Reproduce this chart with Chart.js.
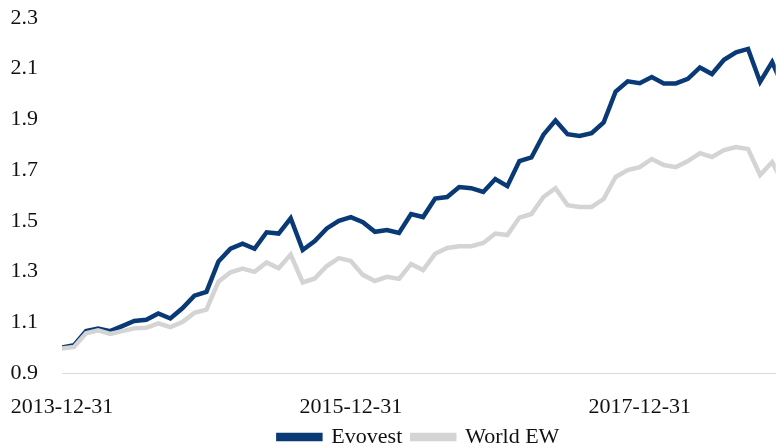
<!DOCTYPE html>
<html>
<head>
<meta charset="utf-8">
<script src="https://cdn.jsdelivr.net/npm/chart.js@4/dist/chart.umd.min.js"></script>
<style>
    html, body { margin: 0; padding: 0; background: #ffffff; }
    #wrap { width: 778px; height: 447px; position: relative; }
</style>
</head>
<body>
<div id="wrap"><canvas id="perfChart"></canvas></div>
<script>
// monthly index levels, month 0 = 2013-12-31
const evovest = [
    1.00, 1.01, 1.065, 1.075, 1.065, 1.085, 1.105, 1.11, 1.135, 1.115,
    1.155, 1.205, 1.22, 1.34, 1.39, 1.41, 1.39, 1.455, 1.45, 1.51,
    1.385, 1.42, 1.47, 1.50, 1.515, 1.495, 1.457, 1.464, 1.452, 1.527,
    1.515, 1.588, 1.594, 1.633, 1.629, 1.614, 1.665, 1.637, 1.736, 1.75,
    1.84, 1.896, 1.842, 1.835, 1.846, 1.888, 2.01, 2.05, 2.043, 2.067,
    2.042, 2.042, 2.06, 2.105, 2.079, 2.135, 2.165, 2.178, 2.048, 2.126,
    2.02
];
const worldEW = [
    0.997, 1.003, 1.057, 1.068, 1.054, 1.065, 1.076, 1.078, 1.096, 1.081,
    1.101, 1.137, 1.15, 1.26, 1.297, 1.312, 1.299, 1.336, 1.313, 1.367,
    1.257, 1.273, 1.322, 1.353, 1.342, 1.287, 1.263, 1.279, 1.271, 1.33,
    1.306, 1.37, 1.393, 1.40, 1.40, 1.413, 1.45, 1.444, 1.513, 1.527,
    1.594, 1.629, 1.562, 1.555, 1.555, 1.586, 1.673, 1.70, 1.712, 1.744,
    1.72, 1.712, 1.736, 1.767, 1.752, 1.779, 1.791, 1.783, 1.681, 1.732,
    1.64
];
const seriesNames = ['Evovest', 'World EW'];
const tickMonths = [0, 24, 48];
const tickLabels = ['2013-12-31', '2015-12-31', '2017-12-31'];
const yTicks = [0.9, 1.1, 1.3, 1.5, 1.7, 1.9, 2.1, 2.3];

const BLUE = '#0a3a76';
const GREY = '#d4d4d4';
const FONT = "'Liberation Serif', 'Times New Roman', serif";

function toPoints(arr) {
    return arr.map((v, i) => ({ x: i, y: v }));
}

Chart.defaults.font.family = FONT;
Chart.defaults.font.size = 22;
Chart.defaults.color = '#111111';

const ctx = document.getElementById('perfChart').getContext('2d');
const chart = new Chart(ctx, {
    type: 'line',
    data: {
        datasets: [{
            label: seriesNames[0],
            data: toPoints(evovest),
            borderColor: BLUE,
            backgroundColor: BLUE,
            borderWidth: 4.5,
            pointRadius: 0,
            tension: 0,
            order: 1
        }, {
            label: seriesNames[1],
            data: toPoints(worldEW),
            borderColor: GREY,
            backgroundColor: GREY,
            borderWidth: 4.5,
            pointRadius: 0,
            tension: 0,
            order: 0 // grey sits on top of the blue line
        }]
    },
    options: {
        responsive: true,
        maintainAspectRatio: false,
        animation: false,
        layout: {
            padding: { top: 18, right: 0, bottom: 0, left: 0 }
        },
        plugins: {
            legend: {
                position: 'bottom',
                fullSize: false, // centre under the plot area
                labels: {
                    boxWidth: 42,
                    boxHeight: 4,
                    padding: 10,
                    sort: (a, b) => a.datasetIndex - b.datasetIndex
                }
            },
            tooltip: { enabled: false }
        },
        scales: {
            x: {
                type: 'linear',
                min: 0,
                max: 59.3,
                grid: { display: false, drawTicks: false },
                border: { display: true, color: '#d9d9d9', width: 1 },
                afterBuildTicks: function(scale) {
                    scale.ticks = tickMonths.map(v => ({ value: v }));
                },
                afterFit: function(scale) {
                    scale.paddingLeft = 0;
                    scale.paddingRight = 0;
                    scale.height = 43;
                },
                ticks: {
                    padding: 21,
                    maxRotation: 0,
                    autoSkip: false,
                    callback: function(value) {
                        const idx = tickMonths.indexOf(value);
                        return idx >= 0 ? tickLabels[idx] : '';
                    }
                }
            },
            y: {
                min: 0.9,
                max: 2.3,
                grid: { display: false, drawTicks: false },
                border: { display: false },
                afterBuildTicks: function(scale) {
                    scale.ticks = yTicks.map(v => ({ value: v }));
                },
                afterFit: function(scale) {
                    scale.width = 62;
                    scale.paddingTop = 0;
                    scale.paddingBottom = 0;
                },
                ticks: {
                    padding: 24,
                    callback: function(value) {
                        return value.toFixed(1);
                    }
                }
            }
        }
    }
});

// legend sits tight under the date labels
const legendFit = chart.legend.fit;
chart.legend.fit = function() {
    legendFit.call(this);
    this.height = 31;
};
chart.update();
</script>
</body>
</html>
